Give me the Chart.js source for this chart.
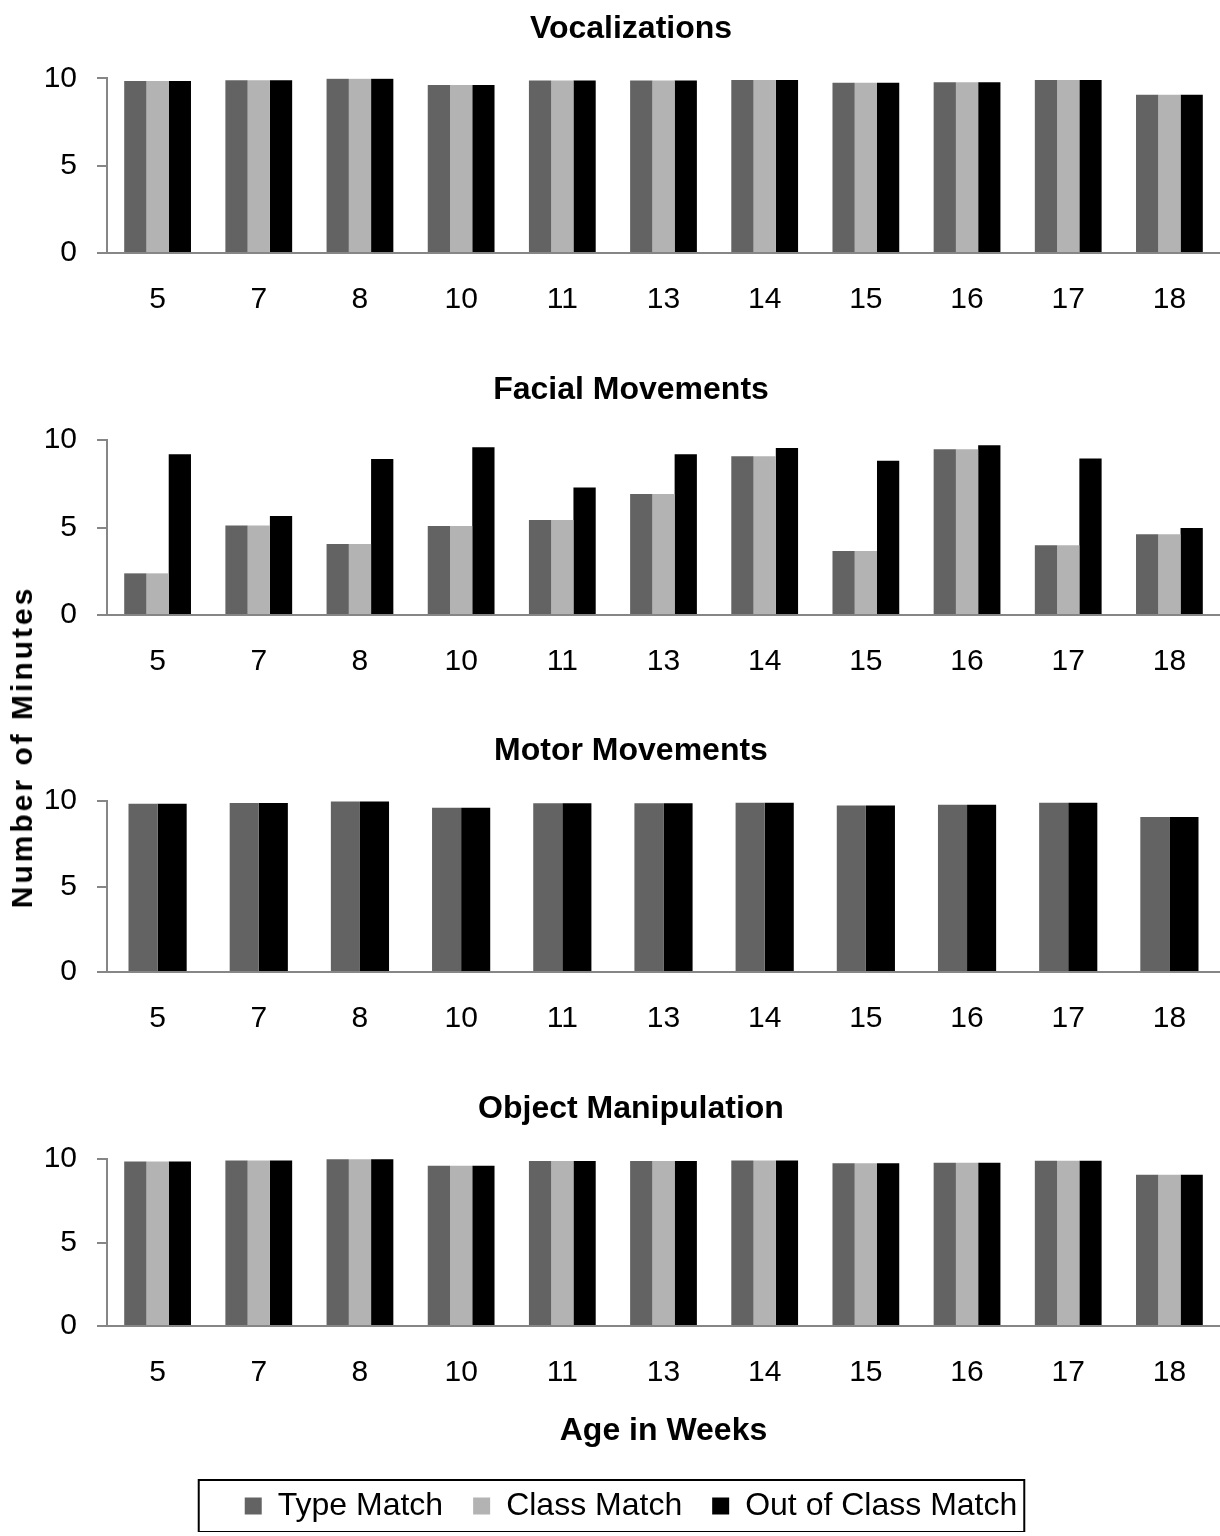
<!DOCTYPE html>
<html>
<head>
<meta charset="utf-8">
<script src="https://cdn.jsdelivr.net/npm/chart.js@4.4.1/dist/chart.umd.min.js"></script>
<style>
  body { margin: 0; background: #fff; }
  #page { position: relative; width: 1220px; height: 1536px; background: #fff; }
  .panel { position: absolute; left: 0; width: 1220px; }
  #yTitle {
    position: absolute; left: 22px; top: 747px;
    transform: translate(-50%, -50%) rotate(-90deg);
    font: bold 30px 'Liberation Sans', Arial, sans-serif;
    letter-spacing: 3px; white-space: nowrap; color: #000;
  }
</style>
</head>
<body>
<div id="page">
  <div class="panel" style="top:10px;height:313px"><canvas id="vocalChart"></canvas></div>
  <div class="panel" style="top:371px;height:314px"><canvas id="facialChart"></canvas></div>
  <div class="panel" style="top:732px;height:310px"><canvas id="motorChart"></canvas></div>
  <div class="panel" style="top:1090px;height:442px"><canvas id="objectChart"></canvas></div>
  <div id="yTitle">Number of Minutes</div>
</div>
<script>
// Data
const weeks = ['5', '7', '8', '10', '11', '13', '14', '15', '16', '17', '18'];
const seriesNames = ['Type Match', 'Class Match', 'Out of Class Match'];
const yTicks = [0, 5, 10];

const vocalType  = [9.84, 9.89, 9.97, 9.61, 9.87, 9.87, 9.9, 9.74, 9.78, 9.9, 9.06];
const vocalClass = [9.84, 9.89, 9.97, 9.61, 9.87, 9.87, 9.9, 9.74, 9.78, 9.9, 9.06];
const vocalOut   = [9.84, 9.89, 9.97, 9.61, 9.87, 9.87, 9.9, 9.74, 9.78, 9.9, 9.06];

const facialType  = [2.38, 5.12, 4.06, 5.09, 5.43, 6.91, 9.07, 3.66, 9.47, 3.98, 4.61];
const facialClass = [2.38, 5.12, 4.06, 5.09, 5.43, 6.91, 9.07, 3.66, 9.47, 3.98, 4.61];
const facialOut   = [9.18, 5.66, 8.91, 9.58, 7.28, 9.18, 9.54, 8.82, 9.70, 8.95, 4.97];

// no Class Match bars in this panel
const motorType = [9.84, 9.89, 9.97, 9.61, 9.87, 9.87, 9.9, 9.74, 9.78, 9.9, 9.06];
const motorOut  = [9.84, 9.89, 9.97, 9.61, 9.87, 9.87, 9.9, 9.74, 9.78, 9.9, 9.06];

const objectType  = [9.85, 9.91, 9.98, 9.6, 9.88, 9.88, 9.91, 9.74, 9.78, 9.9, 9.06];
const objectClass = [9.85, 9.91, 9.98, 9.6, 9.88, 9.88, 9.91, 9.74, 9.78, 9.9, 9.06];
const objectOut   = [9.85, 9.91, 9.98, 9.6, 9.88, 9.88, 9.91, 9.74, 9.78, 9.9, 9.06];

const colors = {
    'Type Match': '#636363',
    'Class Match': '#b3b3b3',
    'Out of Class Match': '#000000'
};
const axisGray = '#868686';
const FONT = "'Liberation Sans', Arial, sans-serif";

Chart.defaults.font.family = FONT;
Chart.defaults.color = '#000';

function ds(name, values) {
    return {
        label: name,
        data: values,
        backgroundColor: colors[name],
        borderWidth: 0,
        barPercentage: 1
    };
}

// box drawn round the legend items
const legendBox = {
    id: 'legendBox',
    afterDraw(chart) {
        const lg = chart.legend;
        if (!lg || !lg.options.display || !lg.legendHitBoxes.length) return;
        const boxes = lg.legendHitBoxes;
        const left = boxes[0].left - 46;
        const last = boxes[boxes.length - 1];
        const right = last.left + last.width + 7;
        const mid = boxes[0].top + boxes[0].height / 2;
        const ctx = chart.ctx;
        ctx.save();
        ctx.strokeStyle = '#000';
        ctx.lineWidth = 2;
        ctx.strokeRect(left, mid - 26, right - left, 52);
        ctx.restore();
    }
};

// left padding moves the titles and legend a little right of the page centre
const PAD_LEFT = 42;

function makePanel(id, title, datasets, catPct, withBottom) {
    const ctx = document.getElementById(id).getContext('2d');
    return new Chart(ctx, {
        type: 'bar',
        data: { labels: weeks, datasets: datasets },
        options: {
            responsive: true,
            maintainAspectRatio: false,
            animation: false,
            layout: { padding: { left: PAD_LEFT, right: 0, top: 0, bottom: 0 } },
            datasets: { bar: { categoryPercentage: catPct } },
            plugins: {
                title: {
                    display: true,
                    text: title,
                    font: { size: 32, weight: 'bold' },
                    padding: { top: 0, bottom: id === 'vocalChart' ? 29.9 : 30.6 }
                },
                legend: {
                    display: withBottom,
                    position: 'bottom',
                    labels: {
                        boxWidth: 17,
                        boxHeight: 17,
                        padding: 30,
                        font: { size: 32 }
                    }
                },
                tooltip: { enabled: false }
            },
            scales: {
                x: {
                    afterFit: (scale) => { scale.height = withBottom ? 134 : 70; },
                    grid: { display: false, drawTicks: false },
                    border: { display: true, color: axisGray, width: 2 },
                    ticks: { font: { size: 30 }, padding: 29, maxRotation: 0 },
                    title: {
                        display: withBottom,
                        text: 'Age in Weeks',
                        font: { size: 32, weight: 'bold' },
                        padding: { top: 0, bottom: 10 }
                    }
                },
                y: {
                    min: 0,
                    max: 10,
                    afterBuildTicks: (scale) => {
                        scale.ticks = yTicks.map(v => ({ value: v }));
                    },
                    afterFit: (scale) => { scale.width = 107 - PAD_LEFT; },
                    grid: {
                        drawOnChartArea: false,
                        drawTicks: true,
                        tickLength: 10,
                        color: axisGray,
                        lineWidth: 2
                    },
                    border: { display: true, color: axisGray, width: 2 },
                    ticks: { font: { size: 30 }, padding: 20 }
                }
            }
        },
        plugins: withBottom ? [legendBox] : []
    });
}

// Vocalizations
makePanel('vocalChart', 'Vocalizations', [
    ds(seriesNames[0], vocalType),
    ds(seriesNames[1], vocalClass),
    ds(seriesNames[2], vocalOut)
], 0.66, false);

// Facial Movements
makePanel('facialChart', 'Facial Movements', [
    ds(seriesNames[0], facialType),
    ds(seriesNames[1], facialClass),
    ds(seriesNames[2], facialOut)
], 0.66, false);

// Motor Movements
makePanel('motorChart', 'Motor Movements', [
    ds(seriesNames[0], motorType),
    ds(seriesNames[2], motorOut)
], 0.575, false);

// Object Manipulation, carries the x title and the legend
makePanel('objectChart', 'Object Manipulation', [
    ds(seriesNames[0], objectType),
    ds(seriesNames[1], objectClass),
    ds(seriesNames[2], objectOut)
], 0.66, true);
</script>
</body>
</html>
